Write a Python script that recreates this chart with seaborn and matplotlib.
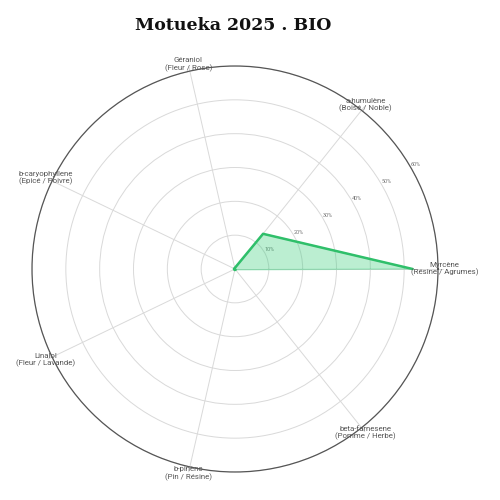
import numpy as np
import pandas as pd
import seaborn as sns
import matplotlib

matplotlib.use("Agg")
import matplotlib.pyplot as plt  # noqa: E402

# ---------------------------------------------------------------------------
# Data
# ---------------------------------------------------------------------------
compounds = ["Myrcène", "a-humulène", "Géraniol", "b-caryophyllene",
             "Linalol", "b-pinène", "beta-farnesene"]
aromas = ["(Résine / Agrumes)", "(Boisé / Noble)", "(Fleur / Rose)",
          "(Epicé / Poivre)", "(Fleur / Lavande)", "(Pin / Résine)",
          "(Pomme / Herbe)"]
values = [52.5, 13.3, 0.3, 0.3, 0.3, 0.3, 0.3]
ring_ticks = [10, 20, 30, 40, 50, 60]
ring_labels = ["10%", "20%", "30%", "40%", "50%", "60%"]

title = "Motueka 2025 . BIO"

sns.set_theme(style="white")
plt.rcParams["font.family"] = ["Roboto", "DejaVu Sans"]

n = len(compounds)
angles = np.arange(n) * 2 * np.pi / n
df = pd.DataFrame({"angle": np.append(angles, angles[0]),
                   "value": values + values[:1]})

fig = plt.figure(figsize=(5, 5), dpi=100)
ax = fig.add_axes([0.064, 0.056, 0.812, 0.812], projection="polar")

green = "#2fbf6a"
ax.fill(df["angle"], df["value"], color="#3ccf7d", alpha=0.35, zorder=3)
sns.lineplot(data=df, x="angle", y="value", sort=False, ax=ax,
             color=green, linewidth=1.8, zorder=4)

ax.set_ylim(0, 60)
ax.set_yticks(ring_ticks)
ax.set_yticklabels(ring_labels, fontsize=4, color="#777777")
ax.set_rlabel_position(30)
ax.set_xticks(angles)
ax.set_xticklabels([])
ax.set_xlabel("")
ax.set_ylabel("")
ax.grid(True, color="#d9d9d9", linewidth=0.7)
ax.spines["polar"].set_color("#555555")
ax.spines["polar"].set_linewidth(0.9)

# spokes run a little past the outer circle, up to the labels
for ang in angles:
    ax.plot([ang, ang], [60, 61.5], color="#d9d9d9", linewidth=0.7,
            clip_on=False, zorder=1)

for ang, name, aroma in zip(angles, compounds, aromas):
    ax.text(ang, 62, f"{name}\n{aroma}", ha="center", va="center",
            fontsize=5.7, color="#555555", linespacing=1.1, zorder=5)

fig.text(0.466, 0.948, title, ha="center", va="center", fontsize=12.5,
         fontweight="heavy", family=["DejaVu Serif", "DejaVu Sans"],
         color="#111111")

fig.savefig("out.png", dpi=100, facecolor="white")
